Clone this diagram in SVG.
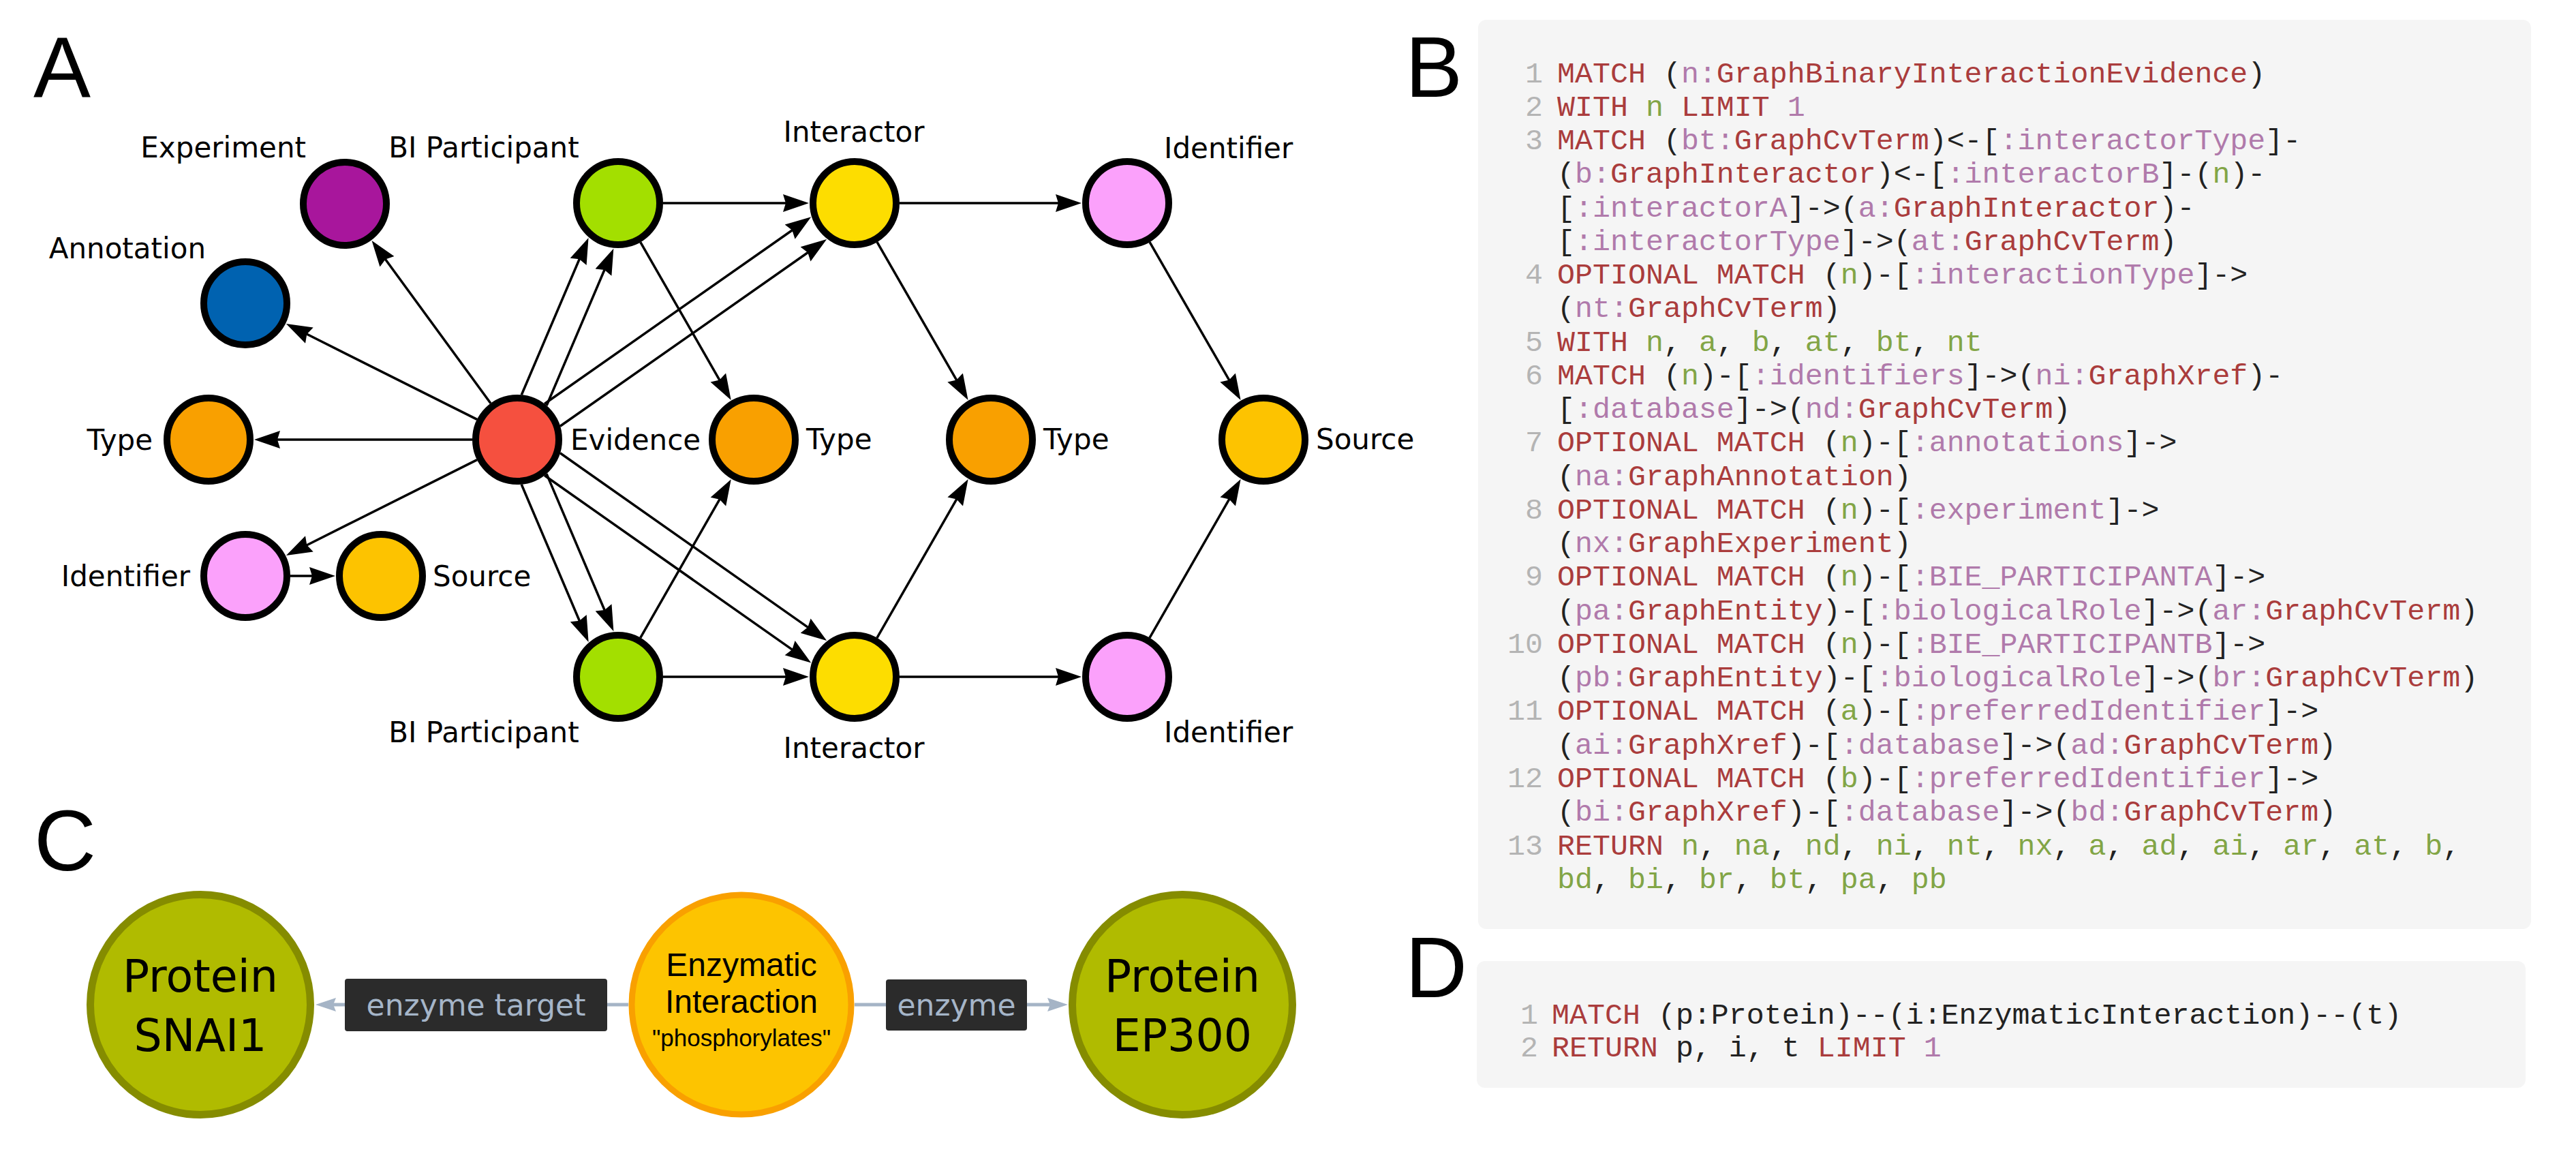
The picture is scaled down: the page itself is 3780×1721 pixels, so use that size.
<svg xmlns="http://www.w3.org/2000/svg" width="3780" height="1721" viewBox="0 0 3780 1721">
<style>
.panel{font-family:"Liberation Sans",Arial,sans-serif;font-size:126px;fill:#000}
.lbl{font-family:"DejaVu Sans",sans-serif;font-size:42px;fill:#000}
.nd{stroke:#000;stroke-width:10}
.e{stroke:#000;stroke-width:3.5;fill:none;marker-end:url(#ah)}
.ec{stroke:#A5B4C6;stroke-width:5;fill:none;marker-end:url(#ahc)}
.code{font-family:"Liberation Mono","DejaVu Sans Mono",monospace;font-size:43.3px;fill:#222;white-space:pre}
.num{fill:#B4B4B4}
.k{fill:#AA3C3C}
.v{fill:#B07AAB}
.g{fill:#82A546}
.box{fill:#F5F5F5}
.cp{font-family:"DejaVu Sans",sans-serif;font-size:65px;fill:#000}
.ci{font-family:"Liberation Sans",Arial,sans-serif;font-size:48px;fill:#000}
.cq{font-family:"Liberation Sans",Arial,sans-serif;font-size:35px;fill:#000}
.elb{fill:#2B2B2B}
.elt{font-family:"DejaVu Sans",sans-serif;font-size:44px;fill:#A5B5C8}
</style>
<defs>
<marker id="ah" markerUnits="userSpaceOnUse" markerWidth="40" markerHeight="30" viewBox="0 -15 40 30" refX="5" refY="0" orient="auto"><path d="M0,-13 L38,0 L0,13 L4,0 z" fill="#000"/></marker>
<marker id="ahc" markerUnits="userSpaceOnUse" markerWidth="32" markerHeight="24" viewBox="0 -12 32 24" refX="5" refY="0" orient="auto"><path d="M0,-10 L30,0 L0,10 L4,0 z" fill="#A5B4C6"/></marker>
</defs>
<rect width="3780" height="1721" fill="#fff"/>

<!-- panel letters -->
<text class="panel" x="49" y="142">A</text>
<text class="panel" x="2062" y="142">B</text>
<text class="panel" x="50" y="1277">C</text>
<text class="panel" x="2062" y="1463">D</text>

<!-- Panel A connectors -->
<g id="connectors-a">
<line class="e" x1="720.0" y1="591.7" x2="565.0" y2="379.7"/>
<line class="e" x1="700.0" y1="615.4" x2="449.4" y2="489.8"/>
<line class="e" x1="693" y1="645" x2="406" y2="645"/>
<line class="e" x1="700.0" y1="674.6" x2="449.4" y2="800.2"/>
<line class="e" x1="426" y1="845" x2="459" y2="845"/>
<line class="e" x1="765.3" y1="579.3" x2="850.6" y2="379.3"/>
<line class="e" x1="802.1" y1="595.0" x2="887.4" y2="395.0"/>
<line class="e" x1="765.2" y1="710.7" x2="850.7" y2="911.7"/>
<line class="e" x1="802.0" y1="695.1" x2="887.5" y2="896.0"/>
<line class="e" x1="799.0" y1="592.5" x2="1163.2" y2="337.2"/>
<line class="e" x1="822.0" y1="625.3" x2="1186.1" y2="370.0"/>
<line class="e" x1="799.0" y1="697.5" x2="1163.2" y2="953.6"/>
<line class="e" x1="822.0" y1="664.8" x2="1186.2" y2="920.9"/>
<line class="e" x1="973" y1="298" x2="1154" y2="298"/>
<line class="e" x1="939.8" y1="355.3" x2="1056.3" y2="558.3"/>
<line class="e" x1="973" y1="993" x2="1154" y2="993"/>
<line class="e" x1="939.8" y1="935.7" x2="1056.4" y2="731.8"/>
<line class="e" x1="1320" y1="298" x2="1554" y2="298"/>
<line class="e" x1="1287.0" y1="355.2" x2="1404.1" y2="558.4"/>
<line class="e" x1="1320" y1="993" x2="1554" y2="993"/>
<line class="e" x1="1286.9" y1="935.8" x2="1404.2" y2="731.7"/>
<line class="e" x1="1687.0" y1="355.2" x2="1804.1" y2="558.4"/>
<line class="e" x1="1686.9" y1="935.8" x2="1804.2" y2="731.7"/>
</g>

<!-- Panel A nodes -->
<g id="node-evidence"><circle class="nd" cx="759" cy="645" r="61" fill="#F5503F"/><text class="lbl" x="837" y="660">Evidence</text></g>
<g id="node-experiment"><circle class="nd" cx="506" cy="299" r="61" fill="#A8169C"/><text class="lbl" x="449" y="231" text-anchor="end">Experiment</text></g>
<g id="node-annotation"><circle class="nd" cx="360" cy="445" r="61" fill="#0062B0"/><text class="lbl" x="302" y="379" text-anchor="end">Annotation</text></g>
<g id="node-type-left"><circle class="nd" cx="306" cy="645" r="61" fill="#F9A000"/><text class="lbl" x="224" y="660" text-anchor="end">Type</text></g>
<g id="node-identifier-left"><circle class="nd" cx="360" cy="845" r="61" fill="#FBA1FB"/><text class="lbl" x="279" y="860" text-anchor="end">Identifier</text></g>
<g id="node-source-left"><circle class="nd" cx="559" cy="845" r="61" fill="#FDC300"/><text class="lbl" x="635" y="860">Source</text></g>
<g id="node-bip-top"><circle class="nd" cx="907" cy="298" r="61" fill="#A3DF00"/><text class="lbl" x="710" y="231" text-anchor="middle">BI Participant</text></g>
<g id="node-bip-bottom"><circle class="nd" cx="907" cy="993" r="61" fill="#A3DF00"/><text class="lbl" x="710" y="1089" text-anchor="middle">BI Participant</text></g>
<g id="node-type-evidence"><circle class="nd" cx="1106" cy="645" r="61" fill="#F9A000"/><text class="lbl" x="1183" y="659">Type</text></g>
<g id="node-interactor-top"><circle class="nd" cx="1254" cy="298" r="61" fill="#FDDD00"/><text class="lbl" x="1253" y="208" text-anchor="middle">Interactor</text></g>
<g id="node-interactor-bottom"><circle class="nd" cx="1254" cy="993" r="61" fill="#FDDD00"/><text class="lbl" x="1253" y="1112" text-anchor="middle">Interactor</text></g>
<g id="node-type-mid"><circle class="nd" cx="1454" cy="645" r="61" fill="#F9A000"/><text class="lbl" x="1531" y="659">Type</text></g>
<g id="node-identifier-top"><circle class="nd" cx="1654" cy="298" r="61" fill="#FBA1FB"/><text class="lbl" x="1708" y="232">Identifier</text></g>
<g id="node-identifier-bottom"><circle class="nd" cx="1654" cy="993" r="61" fill="#FBA1FB"/><text class="lbl" x="1708" y="1089">Identifier</text></g>
<g id="node-source-right"><circle class="nd" cx="1854" cy="645" r="61" fill="#FDC300"/><text class="lbl" x="1931" y="659">Source</text></g>

<!-- Panel B code -->
<g id="code-b" xml:space="preserve">
<rect class="box" x="2169" y="29" width="1545" height="1334" rx="12"/>
<text class="code num" x="2264" y="120.5" text-anchor="end">1</text>
<text class="code num" x="2264" y="169.8" text-anchor="end">2</text>
<text class="code num" x="2264" y="219.0" text-anchor="end">3</text>
<text class="code num" x="2264" y="416.1" text-anchor="end">4</text>
<text class="code num" x="2264" y="514.6" text-anchor="end">5</text>
<text class="code num" x="2264" y="563.8" text-anchor="end">6</text>
<text class="code num" x="2264" y="662.4" text-anchor="end">7</text>
<text class="code num" x="2264" y="760.9" text-anchor="end">8</text>
<text class="code num" x="2264" y="859.4" text-anchor="end">9</text>
<text class="code num" x="2264" y="957.9" text-anchor="end">10</text>
<text class="code num" x="2264" y="1056.4" text-anchor="end">11</text>
<text class="code num" x="2264" y="1155.0" text-anchor="end">12</text>
<text class="code num" x="2264" y="1253.5" text-anchor="end">13</text>
<text class="code" x="2285" y="120.5"><tspan class="k">MATCH</tspan> (<tspan class="v">n:</tspan><tspan class="k">GraphBinaryInteractionEvidence</tspan>)</text>
<text class="code" x="2285" y="169.8"><tspan class="k">WITH</tspan> <tspan class="g">n</tspan> <tspan class="k">LIMIT</tspan> <tspan class="v">1</tspan></text>
<text class="code" x="2285" y="219.0"><tspan class="k">MATCH</tspan> (<tspan class="v">bt:</tspan><tspan class="k">GraphCvTerm</tspan>)&lt;-[<tspan class="v">:interactorType</tspan>]-</text>
<text class="code" x="2285" y="268.3">(<tspan class="v">b:</tspan><tspan class="k">GraphInteractor</tspan>)&lt;-[<tspan class="v">:interactorB</tspan>]-(<tspan class="g">n</tspan>)-</text>
<text class="code" x="2285" y="317.5">[<tspan class="v">:interactorA</tspan>]-&gt;(<tspan class="v">a:</tspan><tspan class="k">GraphInteractor</tspan>)-</text>
<text class="code" x="2285" y="366.8">[<tspan class="v">:interactorType</tspan>]-&gt;(<tspan class="v">at:</tspan><tspan class="k">GraphCvTerm</tspan>)</text>
<text class="code" x="2285" y="416.1"><tspan class="k">OPTIONAL MATCH</tspan> (<tspan class="g">n</tspan>)-[<tspan class="v">:interactionType</tspan>]-&gt;</text>
<text class="code" x="2285" y="465.3">(<tspan class="v">nt:</tspan><tspan class="k">GraphCvTerm</tspan>)</text>
<text class="code" x="2285" y="514.6"><tspan class="k">WITH</tspan> <tspan class="g">n</tspan>, <tspan class="g">a</tspan>, <tspan class="g">b</tspan>, <tspan class="g">at</tspan>, <tspan class="g">bt</tspan>, <tspan class="g">nt</tspan></text>
<text class="code" x="2285" y="563.8"><tspan class="k">MATCH</tspan> (<tspan class="g">n</tspan>)-[<tspan class="v">:identifiers</tspan>]-&gt;(<tspan class="v">ni:</tspan><tspan class="k">GraphXref</tspan>)-</text>
<text class="code" x="2285" y="613.1">[<tspan class="v">:database</tspan>]-&gt;(<tspan class="v">nd:</tspan><tspan class="k">GraphCvTerm</tspan>)</text>
<text class="code" x="2285" y="662.4"><tspan class="k">OPTIONAL MATCH</tspan> (<tspan class="g">n</tspan>)-[<tspan class="v">:annotations</tspan>]-&gt;</text>
<text class="code" x="2285" y="711.6">(<tspan class="v">na:</tspan><tspan class="k">GraphAnnotation</tspan>)</text>
<text class="code" x="2285" y="760.9"><tspan class="k">OPTIONAL MATCH</tspan> (<tspan class="g">n</tspan>)-[<tspan class="v">:experiment</tspan>]-&gt;</text>
<text class="code" x="2285" y="810.1">(<tspan class="v">nx:</tspan><tspan class="k">GraphExperiment</tspan>)</text>
<text class="code" x="2285" y="859.4"><tspan class="k">OPTIONAL MATCH</tspan> (<tspan class="g">n</tspan>)-[<tspan class="v">:BIE_PARTICIPANTA</tspan>]-&gt;</text>
<text class="code" x="2285" y="908.7">(<tspan class="v">pa:</tspan><tspan class="k">GraphEntity</tspan>)-[<tspan class="v">:biologicalRole</tspan>]-&gt;(<tspan class="v">ar:</tspan><tspan class="k">GraphCvTerm</tspan>)</text>
<text class="code" x="2285" y="957.9"><tspan class="k">OPTIONAL MATCH</tspan> (<tspan class="g">n</tspan>)-[<tspan class="v">:BIE_PARTICIPANTB</tspan>]-&gt;</text>
<text class="code" x="2285" y="1007.2">(<tspan class="v">pb:</tspan><tspan class="k">GraphEntity</tspan>)-[<tspan class="v">:biologicalRole</tspan>]-&gt;(<tspan class="v">br:</tspan><tspan class="k">GraphCvTerm</tspan>)</text>
<text class="code" x="2285" y="1056.4"><tspan class="k">OPTIONAL MATCH</tspan> (<tspan class="g">a</tspan>)-[<tspan class="v">:preferredIdentifier</tspan>]-&gt;</text>
<text class="code" x="2285" y="1105.7">(<tspan class="v">ai:</tspan><tspan class="k">GraphXref</tspan>)-[<tspan class="v">:database</tspan>]-&gt;(<tspan class="v">ad:</tspan><tspan class="k">GraphCvTerm</tspan>)</text>
<text class="code" x="2285" y="1155.0"><tspan class="k">OPTIONAL MATCH</tspan> (<tspan class="g">b</tspan>)-[<tspan class="v">:preferredIdentifier</tspan>]-&gt;</text>
<text class="code" x="2285" y="1204.2">(<tspan class="v">bi:</tspan><tspan class="k">GraphXref</tspan>)-[<tspan class="v">:database</tspan>]-&gt;(<tspan class="v">bd:</tspan><tspan class="k">GraphCvTerm</tspan>)</text>
<text class="code" x="2285" y="1253.5"><tspan class="k">RETURN</tspan> <tspan class="g">n</tspan>, <tspan class="g">na</tspan>, <tspan class="g">nd</tspan>, <tspan class="g">ni</tspan>, <tspan class="g">nt</tspan>, <tspan class="g">nx</tspan>, <tspan class="g">a</tspan>, <tspan class="g">ad</tspan>, <tspan class="g">ai</tspan>, <tspan class="g">ar</tspan>, <tspan class="g">at</tspan>, <tspan class="g">b</tspan>,</text>
<text class="code" x="2285" y="1302.7"><tspan class="g">bd</tspan>, <tspan class="g">bi</tspan>, <tspan class="g">br</tspan>, <tspan class="g">bt</tspan>, <tspan class="g">pa</tspan>, <tspan class="g">pb</tspan></text>
</g>

<!-- Panel D code -->
<g id="code-d" xml:space="preserve">
<rect class="box" x="2167" y="1410" width="1539" height="186" rx="12"/>
<text class="code num" x="2257" y="1502" text-anchor="end">1</text>
<text class="code num" x="2257" y="1550" text-anchor="end">2</text>
<text class="code" x="2277" y="1502"><tspan class="k">MATCH</tspan> (p:Protein)--(i:EnzymaticInteraction)--(t)</text>
<text class="code" x="2277" y="1550"><tspan class="k">RETURN</tspan> p, i, t <tspan class="k">LIMIT</tspan> <tspan class="v">1</tspan></text>
</g>

<!-- Panel C connectors -->
<g id="connectors-c">
<line class="ec" x1="922" y1="1474" x2="488" y2="1474"/>
<line class="ec" x1="1254" y1="1474" x2="1542" y2="1474"/>
<g id="label-enzyme-target"><rect class="elb" x="506" y="1436" width="385" height="77" rx="4"/><text class="elt" x="698.5" y="1490" text-anchor="middle">enzyme target</text></g>
<g id="label-enzyme"><rect class="elb" x="1300" y="1437" width="207" height="75" rx="4"/><text class="elt" x="1403.5" y="1490" text-anchor="middle">enzyme</text></g>
</g>

<!-- Panel C nodes -->
<g id="node-snai1"><circle cx="294" cy="1474" r="161.5" fill="#B0BB00" stroke="#858C00" stroke-width="11"/><text class="cp" x="294" y="1455" text-anchor="middle">Protein</text><text class="cp" x="294" y="1542" text-anchor="middle">SNAI1</text></g>
<g id="node-enzymatic"><circle cx="1088" cy="1474" r="161" fill="#FDC400" stroke="#F9A000" stroke-width="9"/><text class="ci" x="1088" y="1432" text-anchor="middle">Enzymatic</text><text class="ci" x="1088" y="1486" text-anchor="middle">Interaction</text><text class="cq" x="1088" y="1535" text-anchor="middle">"phosphorylates"</text></g>
<g id="node-ep300"><circle cx="1735" cy="1474" r="161.5" fill="#B0BB00" stroke="#858C00" stroke-width="11"/><text class="cp" x="1735" y="1455" text-anchor="middle">Protein</text><text class="cp" x="1735" y="1542" text-anchor="middle">EP300</text></g>
</svg>
